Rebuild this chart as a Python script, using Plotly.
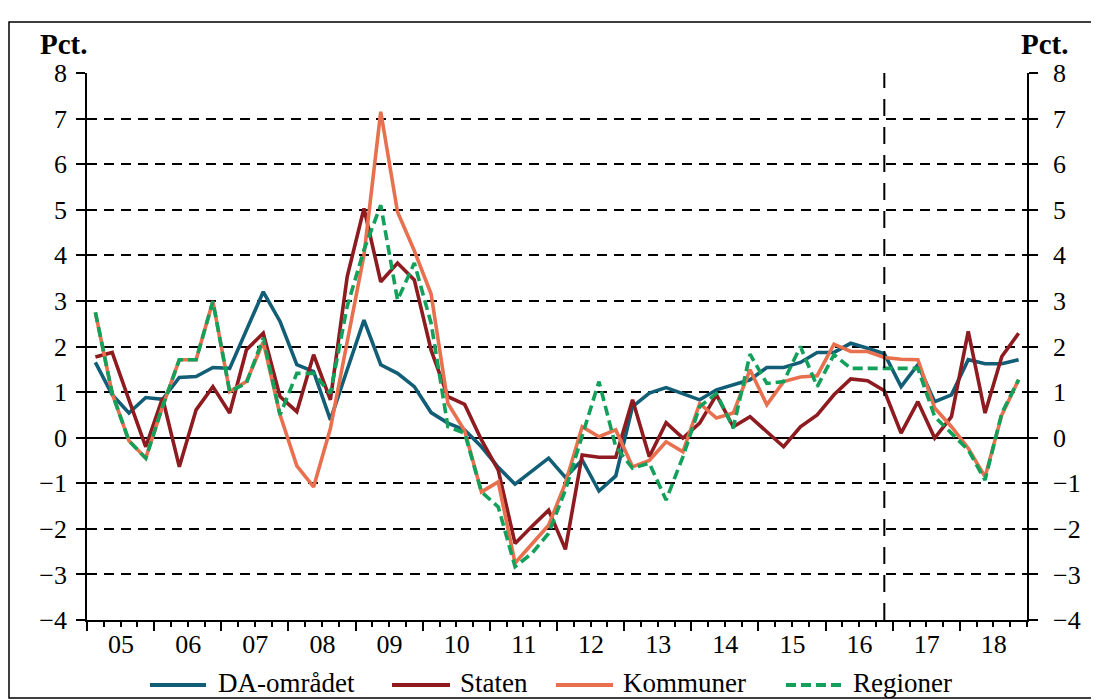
import plotly.graph_objects as go

# Quarterly data 2005K1 - 2018K4
quarters = [f"{y}K{q}" for y in range(2005, 2019) for q in range(1, 5)]
year_labels = ["05", "06", "07", "08", "09", "10", "11", "12", "13", "14", "15", "16", "17", "18"]

da_omraadet = [1.65, 0.94, 0.54, 0.88, 0.84, 1.32, 1.34, 1.54,
               1.52, 2.37, 3.2, 2.55, 1.6, 1.45, 0.39, 1.49,
               2.58, 1.6, 1.41, 1.12, 0.55, 0.32, 0.17, -0.2,
               -0.65, -1.02, -0.73, -0.45, -0.87, -0.49, -1.17, -0.84,
               0.68, 0.98, 1.1, 0.97, 0.83, 1.05, 1.16, 1.27,
               1.54, 1.54, 1.65, 1.87, 1.87, 2.07, 1.96, 1.84,
               1.12, 1.6, 0.79, 0.94, 1.71, 1.62, 1.62, 1.71]

staten = [1.77, 1.87, 0.83, -0.2, 0.87, -0.64, 0.61, 1.12,
          0.54, 1.93, 2.29, 0.9, 0.57, 1.82, 0.83, 3.53,
          5.03, 3.42, 3.83, 3.46, 1.92, 0.9, 0.73, -0.05,
          -0.71, -2.32, -1.95, -1.59, -2.45, -0.38, -0.43, -0.43,
          0.83, -0.42, 0.33, -0.01, 0.32, 0.94, 0.24, 0.46,
          0.13, -0.2, 0.24, 0.5, 0.94, 1.29, 1.25, 1.03,
          0.1, 0.79, -0.01, 0.46, 2.33, 0.54, 1.78, 2.29]

kommuner = [2.75, 0.97, -0.07, -0.45, 0.68, 1.71, 1.71, 2.99,
            1.01, 1.23, 2.1, 0.5, -0.62, -1.08, 0.2, 2.1,
            4.0, 7.15, 4.95, 4.1, 3.15, 0.75, 0.15, -1.19,
            -0.97, -2.75, -2.32, -1.92, -1.0, 0.24, 0.02, 0.17,
            -0.64, -0.5, -0.09, -0.31, 0.75, 0.43, 0.54, 1.49,
            0.72, 1.23, 1.33, 1.36, 2.05, 1.89, 1.89, 1.76,
            1.72, 1.71, 0.65, 0.24, -0.23, -0.86, 0.5, 1.27]

regioner = [2.75, 0.97, -0.07, -0.45, 0.68, 1.71, 1.71, 2.99,
            1.01, 1.2, 2.19, 0.5, 1.41, 1.41, 0.97, 2.88,
            4.12, 5.1, 3.02, 3.83, 2.51, 0.24, 0.1, -1.19,
            -1.52, -2.83, -2.54, -2.1, -1.15, 0.02, 1.23, -0.2,
            -0.67, -0.56, -1.37, -0.42, 0.68, 0.97, 0.21, 1.83,
            1.19, 1.23, 2.0, 1.12, 1.82, 1.52, 1.52, 1.52,
            1.52, 1.52, 0.46, 0.1, -0.27, -0.93, 0.54, 1.27]

forecast_quarter = "2016K4"

x = list(range(len(quarters)))
year_starts = [i - 0.5 for i in range(0, len(quarters), 4)]
forecast_x = quarters.index(forecast_quarter)

FONT = "Liberation Serif"
# the page adds an 8px body margin, so the figure is sized to fill the rest of the window
W, H = 1091, 692
ML, MT = 79, 65
PW, PH = 940, 547
MR, MB = W - ML - PW, H - MT - PH

# helpers: positions measured in window pixels -> paper coordinates
def px(xp):
    return (xp - 87) / PW


def py(yp):
    return (620 - yp) / PH


fig = go.Figure()

series = [
    ("DA-området", da_omraadet, "#135E77", "solid"),
    ("Staten", staten, "#8E1B20", "solid"),
    ("Kommuner", kommuner, "#E8704E", "solid"),
    ("Regioner", regioner, "#12A05A", "10px,5px"),
]
for name, vals, col, dash in series:
    fig.add_trace(go.Scatter(x=x, y=vals, name=name, mode="lines",
                             line=dict(color=col, width=3.6, dash=dash),
                             customdata=quarters, showlegend=False))

# invisible trace to carry the right-hand axis
fig.add_trace(go.Scatter(x=[x[0]], y=[da_omraadet[0]], yaxis="y2", mode="lines",
                         showlegend=False, hoverinfo="skip", line=dict(width=0)))

tickfont = dict(family=FONT, size=26, color="black")
fig.update_layout(
    width=W, height=H,
    margin=dict(l=ML, r=MR, t=MT, b=MB),
    paper_bgcolor="white", plot_bgcolor="white",
    font=dict(family=FONT, size=26, color="black"),
    showlegend=False,
    xaxis=dict(range=[-0.5, len(quarters) - 0.5], tickmode="array",
               tickvals=year_starts, ticktext=year_labels, ticklabelshift=34,
               ticks="outside", ticklen=9, tickwidth=1.5, tickcolor="black",
               minor=dict(tickmode="linear", tick0=-0.5, dtick=1, ticks="outside",
                          ticklen=5, tickwidth=1.5, tickcolor="black"),
               showgrid=False, zeroline=False, showline=True, linecolor="black",
               linewidth=1.8, tickfont=tickfont, automargin=False,
               ticklabelstandoff=-9),
    yaxis=dict(range=[-4, 8], dtick=1, tick0=0, showgrid=True, gridcolor="black",
               griddash="10px,7px", gridwidth=1.9, zeroline=True, zerolinecolor="black",
               zerolinewidth=1.8, showline=True, linecolor="black", linewidth=1.8,
               ticks="outside", ticklen=9, tickwidth=1.5, tickcolor="black",
               ticklabelstandoff=4, tickfont=tickfont, automargin=False),
    yaxis2=dict(range=[-4, 8], dtick=1, tick0=0, overlaying="y", side="right",
                showgrid=False, zeroline=False, showline=True, linecolor="black",
                linewidth=1.8, ticks="outside", ticklen=9, tickwidth=1.5,
                tickcolor="black", ticklabelstandoff=10, tickfont=tickfont,
                automargin=False),
)

fig.add_shape(type="line", xref="x", yref="paper", x0=forecast_x, x1=forecast_x,
              y0=0, y1=1, line=dict(color="black", width=2, dash="17px,11px"))

# outer frame
fig.add_shape(type="rect", xref="paper", yref="paper", x0=px(9), x1=px(1097),
              y0=py(698), y1=py(22), line=dict(color="black", width=1.5),
              fillcolor="rgba(0,0,0,0)", layer="below")

for xc in (64, 1045):
    fig.add_annotation(text="<b>Pct.</b>", xref="paper", yref="paper", x=px(xc), y=py(44),
                       xanchor="center", yanchor="middle", showarrow=False,
                       font=dict(family=FONT, size=29))

# manual legend (line sample + label), laid out as in the source figure
legend_pos = [(150, 206, 216), (392, 450, 458), (556, 613, 621), (786, 843, 851)]
for (name, _, col, dash), (l0, l1, tx) in zip(series, legend_pos):
    fig.add_shape(type="line", xref="paper", yref="paper", x0=px(l0), x1=px(l1),
                  y0=py(685), y1=py(685), line=dict(color=col, width=4, dash=dash))
    fig.add_annotation(text=name, xref="paper", yref="paper", x=px(tx), y=py(683),
                       xanchor="left", yanchor="middle", showarrow=False,
                       font=dict(family=FONT, size=27))

fig.write_html("out.html")
